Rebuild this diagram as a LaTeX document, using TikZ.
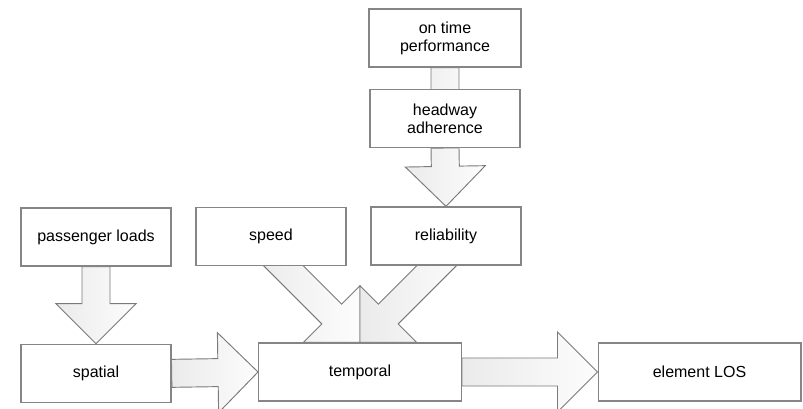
\documentclass[tikz,border=0pt]{standalone}
\usepackage{fontspec}
\setmainfont{Liberation Sans}
\usepackage{tikz}
\usetikzlibrary{calc,positioning,backgrounds}

\definecolor{boxgray}{HTML}{858585}
\definecolor{arrowgray}{HTML}{7A7A7A}

% fat block arrow from #1 (tail) to #2 (tip)
\newcommand{\blockarrow}[2]{%
    \coordinate (ah) at ($(#2)!30pt!(#1)$);
    \draw[fatarrow] ($(#1)!10.5pt!90:(#2)$) -- ($(ah)!10.5pt!90:(#2)$)
        -- ($(ah)!30pt!90:(#2)$) -- (#2) -- ($(ah)!30pt!-90:(#2)$)
        -- ($(ah)!10.5pt!-90:(#2)$) -- ($(#1)!10.5pt!-90:(#2)$) -- cycle;
}

\begin{document}
\begin{tikzpicture}[
    x=0.75pt, y=-0.75pt,
    % --- STYLES ---
    box/.style={
        rectangle, draw=boxgray, line width=1pt, fill=white,
        minimum width=112.5pt,
        minimum height=43.5pt,
        align=center, inner sep=2pt,
        font=\fontsize{12}{13.5}\selectfont
    },
    widebox/.style={box, minimum width=152pt},
    fatarrow/.style={
        draw=arrowgray, line width=0.7pt, line join=miter,
        left color=black!8, right color=black!1
    }
]

\useasboundingbox (0,0) rectangle (803,408);

% ===== 1. TOP COLUMN =====
\node[box, minimum width=114pt] (otp) at (445,38) {on time\\performance};
\node[box, below=15.75pt of otp] (headway) {headway\\adherence};
\node[box] (reliability) at (446,236) {reliability};

% ===== 2. MIDDLE ROW =====
\node[box] (speed) at (271,236.5) {speed};
\node[box] (passenger) at (96,237) {passenger loads};

% ===== 3. BOTTOM ROW =====
\node[box, below=57.75pt of passenger] (spatial) {spatial};
\node[widebox] (temporal) at (360,372) {temporal};
\node[widebox] (elos) at (699.5,372) {element LOS};

% ===== 4. CONNECTIONS =====
\begin{scope}[on background layer]
\blockarrow{otp.south}{headway.south}
\blockarrow{headway.south}{reliability.north}
\blockarrow{passenger.south}{spatial.north}
\blockarrow{spatial.east}{temporal.west}
\blockarrow{temporal.east}{elos.west}

% diagonal arrows, tails hidden under the boxes
\coordinate (speedtail) at ($(temporal.north)+(-100,-100)$);
\coordinate (reltail) at ($(temporal.north)+(100,-100)$);
\blockarrow{speedtail}{temporal.north}
\blockarrow{reltail}{temporal.north}
\end{scope}

\end{tikzpicture}
\end{document}
